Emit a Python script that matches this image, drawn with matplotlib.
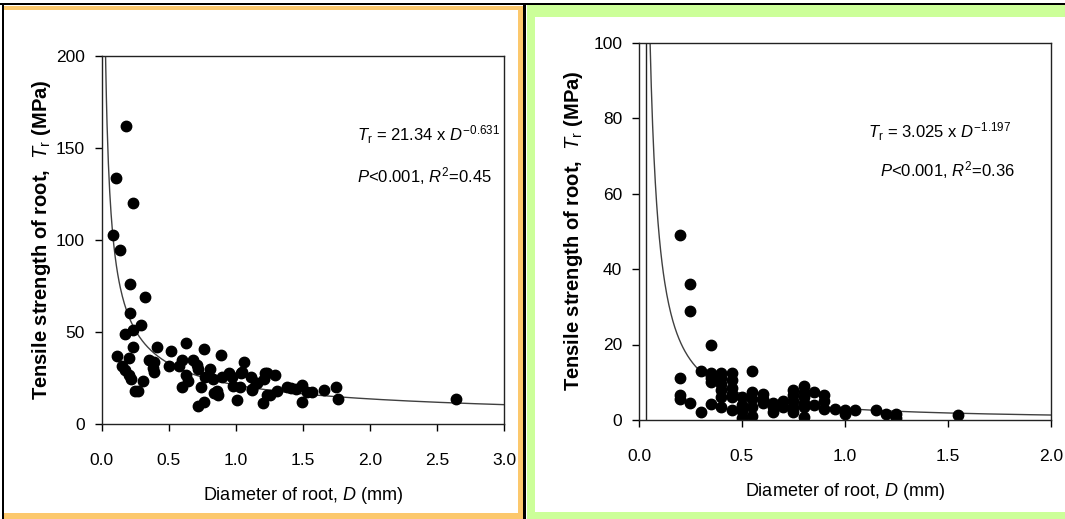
import matplotlib
matplotlib.use("Agg")
import matplotlib.pyplot as plt
from matplotlib.patches import Rectangle
import numpy as np

plt.rcParams['font.family'] = ['Liberation Sans', 'DejaVu Sans']
plt.rcParams['mathtext.fontset'] = 'custom'
plt.rcParams['mathtext.rm'] = 'Liberation Sans'
plt.rcParams['mathtext.it'] = 'Liberation Sans:italic'

# left panel: root diameter (mm) vs tensile strength (MPa)
left_d = [0.085, 0.11, 0.18, 0.23, 0.14, 0.21, 0.32, 0.21, 0.29, 0.175, 0.235, 0.23,
          0.115, 0.205, 0.15, 0.175, 0.20, 0.22, 0.25, 0.27, 0.31, 0.35, 0.39, 0.38,
          0.39, 0.41, 0.515, 0.50, 0.63, 0.58, 0.60, 0.60, 0.63, 0.64, 0.68, 0.71,
          0.72, 0.76, 0.77, 0.74, 0.72, 0.76, 0.81, 0.83, 0.84, 0.87, 0.86, 0.89,
          0.90, 0.95, 0.97, 0.98, 1.01, 1.04, 1.06, 1.03, 1.11, 1.12, 1.15, 1.20,
          1.23, 1.23, 1.21, 1.29, 1.31, 1.38, 1.45, 1.49, 1.49, 1.53, 1.41, 1.57,
          1.66, 1.75, 1.76, 2.64, 1.045, 1.22, 1.255, 1.155, 1.12]
left_t = [103, 134, 162, 120, 94.5, 76, 69, 60.5, 54, 49, 51, 42,
          37, 36, 31.5, 29.5, 27, 24.5, 18, 18, 23.5, 35, 34, 30.5,
          28.5, 42, 40, 31.5, 44, 31.5, 35, 20.5, 27, 23.5, 35, 32,
          30, 41, 25.5, 20.5, 10, 12, 30, 24.5, 17, 16, 18, 37.5,
          25.5, 28, 25.5, 21, 13, 28, 34, 20.5, 25.5, 19, 22.5, 11.5,
          16, 28, 24.5, 27, 18, 20, 19, 21.5, 12, 17.5, 19.5, 17.5,
          18.5, 20.5, 14, 14, 28.6, 28, 16, 22.3, 18.6]

# right panel
right_d = [0.2, 0.2, 0.2, 0.2,
           0.25, 0.25, 0.25,
           0.3, 0.3,
           0.35, 0.35, 0.35, 0.35, 0.35,
           0.4, 0.4, 0.4, 0.4, 0.4, 0.4,
           0.45, 0.45, 0.45, 0.45, 0.45, 0.45,
           0.5, 0.5, 0.5, 0.5,
           0.55, 0.55, 0.55, 0.55, 0.55,
           0.6, 0.6, 0.6,
           0.65, 0.65, 0.65,
           0.7, 0.7,
           0.75, 0.75, 0.75, 0.75, 0.75,
           0.8, 0.8, 0.8, 0.8, 0.8, 0.8,
           0.85, 0.85,
           0.9, 0.9, 0.9,
           0.95, 1.0, 1.0, 1.05, 1.15, 1.2, 1.25, 1.25, 1.55]
right_t = [49, 11, 6.5, 5.5,
           36, 29, 4.5,
           13, 2.2,
           20, 12.5, 11, 10, 4.2,
           12.5, 11, 9.5, 8, 6, 3.5,
           12.5, 10.5, 8.5, 7, 6, 2.7,
           6, 4, 2.5, 0.5,
           13, 7.5, 5.5, 3.5, 1,
           7, 5.5, 4.5,
           4.5, 3.5, 2,
           5, 3.5,
           8, 6.5, 5, 3.5, 2,
           9, 7.5, 6, 4.5, 3.5, 0.8,
           7.5, 4,
           6.5, 5, 3,
           3, 2.7, 1.5, 2.7, 2.7, 1.6, 1.5, 0.6, 1.3]

# fitted power laws T = a * D^b
left_a, left_b = 21.34, -0.631
right_a, right_b = 3.025, -1.197
right_extra_line = 0.035  # stray vertical line near the y axis

W, H = 1065, 519
fig = plt.figure(figsize=(W / 100, H / 100), dpi=100)


def box(x0, y0, x1, y1, color):
    # pixel coords with origin top-left
    fig.patches.append(Rectangle((x0 / W, 1 - y1 / H), (x1 - x0) / W, (y1 - y0) / H,
                                 transform=fig.transFigure, color=color, lw=0, zorder=-5))


orange = '#fcc86c'
green = '#ccff99'
box(527, 5, W, H, green)
box(535, 17, W, 512, 'white')
box(4, 6, 523, 10, orange)
box(518, 6, 523, H, orange)
box(4, 513, 523, H, orange)
box(0, 3, W, 5, 'black')
box(2, 3, 4, H, 'black')
box(523, 3, 526, H, 'black')


def make_axes(x0, x1, ytop, ybot):
    return fig.add_axes([x0 / W, 1 - ybot / H, (x1 - x0) / W, (ybot - ytop) / H])


def style(ax):
    for s in ax.spines.values():
        s.set_linewidth(1.0)
        s.set_color('#222222')
    ax.tick_params(direction='out', length=5, width=1, labelsize=12.5, top=False, right=False)
    ax.tick_params(axis='x', pad=16)
    ax.tick_params(axis='y', pad=7)


ylab = r'Tensile strength of root,  $T_\mathrm{r}$ (MPa)'

ax1 = make_axes(101.7, 504, 56, 424.3)
dd = np.linspace(0.02, 3.0, 600)
ax1.plot(dd, left_a * dd ** left_b, color='#404040', lw=1.0)
ax1.plot(left_d, left_t, 'o', color='black', ms=7.5, mec='black')
ax1.set_xlim(0, 3.0)
ax1.set_ylim(0, 200)
ax1.set_xticks(np.arange(0, 3.01, 0.5))
ax1.set_xticklabels(['0.0', '0.5', '1.0', '1.5', '2.0', '2.5', '3.0'])
ax1.set_yticks([0, 50, 100, 150, 200])
style(ax1)
ax1.set_xlabel(r'Diameter of root, $D$ (mm)', fontsize=13, labelpad=12)
ax1.set_ylabel(ylab, fontsize=14.5, fontweight='bold', labelpad=2)
ax1.text(0.635, 0.785, r'$T_\mathrm{r}$ = 21.34 x $D^{\mathrm{-0.631}}$', transform=ax1.transAxes,
         fontsize=12, va='center')
ax1.text(0.635, 0.674, r'$P$<0.001, $R^{\mathrm{2}}$=0.45', transform=ax1.transAxes,
         fontsize=12, va='center')

ax2 = make_axes(639, 1050.7, 42.5, 420)
dd = np.linspace(0.04, 2.0, 600)
ax2.plot(dd, right_a * dd ** right_b, color='#404040', lw=1.0)
ax2.axvline(right_extra_line, color='#222222', lw=1.0)
ax2.plot(right_d, right_t, 'o', color='black', ms=7.5, mec='black')
ax2.set_xlim(0, 2.0)
ax2.set_ylim(0, 100)
ax2.set_xticks([0, 0.5, 1.0, 1.5, 2.0])
ax2.set_xticklabels(['0.0', '0.5', '1.0', '1.5', '2.0'])
ax2.set_yticks([0, 20, 40, 60, 80, 100])
style(ax2)
ax2.set_xlabel(r'Diameter of root, $D$ (mm)', fontsize=13, labelpad=12)
ax2.set_ylabel(ylab, fontsize=14.5, fontweight='bold', labelpad=6)
ax2.text(0.556, 0.763, r'$T_\mathrm{r}$ = 3.025 x $D^{\mathrm{-1.197}}$', transform=ax2.transAxes,
         fontsize=12, va='center')
ax2.text(0.585, 0.662, r'$P$<0.001, $R^{\mathrm{2}}$=0.36', transform=ax2.transAxes,
         fontsize=12, va='center')

fig.savefig('out.png', dpi=100)
